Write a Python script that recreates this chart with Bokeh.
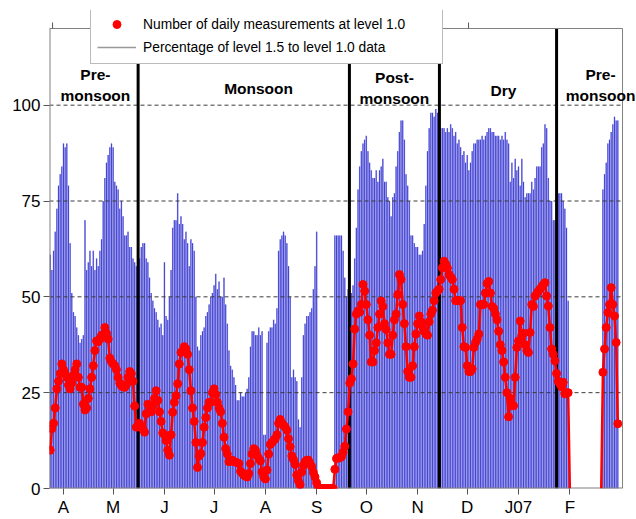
import numpy as np
from bokeh.plotting import figure
from bokeh.models import (ColumnDataSource, Range1d, FixedTicker,
                          Legend, LegendItem)
from bokeh.core.properties import value
from bokeh.embed import file_html
from bokeh.resources import INLINE

# ---------------- data (day index: 0 = 1 April 2006) ----------------
days_a = list(range(-8, 306))
days_b = list(range(326, 336))

pct_a = [61, 57, 62, 67, 73, 79, 82, 84,
         90, 89, 90, 79, 64, 51, 46, 45, 42, 40,
         38, 39, 40, 70, 57, 59, 62, 58, 62, 57,
         60, 58, 62, 65, 75, 81, 85, 87, 89, 90,
         89, 80, 79, 78, 73, 75, 71, 66, 66, 67,
         63, 63, 60, 59, 58, 55, 60, 63, 64, 64,
         60, 59, 55, 51, 49, 47, 46, 44, 42, 43,
         40, 59, 45, 44, 50, 57, 68, 70, 70, 77,
         69, 71, 69, 65, 67, 64, 58, 65, 64, 62,
         50, 37, 36, 40, 41, 42, 45, 46, 48, 50,
         51, 53, 56, 52, 54, 50, 50, 55, 48, 43,
         36, 32, 31, 29, 27, 23, 23, 25, 24, 24,
         25, 26, 29, 37, 41, 41, 40, 40, 42, 40,
         41, 14, 14, 38, 41, 42, 42, 44, 43, 47,
         62, 65, 66, 67, 66, 64, 58, 50, 29, 31,
         29, 28, 18, 16, 29, 40, 43, 45, 45, 46,
         47, 52, 58, 67, 0, 0, 0, 0, 0, 0,
         0, 0, 0, 0, 66, 66, 66, 66, 66, 62,
         55, 50, 52, 51, 51, 53, 60, 68, 78, 84,
         88, 90, 91, 92, 88, 85, 83, 81, 81, 83,
         80, 83, 84, 86, 80, 80, 76, 75, 71, 76,
         77, 84, 88, 93, 96, 96, 91, 82, 79, 75,
         66, 66, 64, 63, 63, 61, 61, 62, 69, 79,
         88, 94, 98, 98, 97, 99, 98, 96, 94, 94,
         94, 93, 94, 93, 95, 94, 92, 93, 90, 91,
         89, 87, 88, 85, 87, 83, 85, 88, 90, 90,
         91, 91, 91, 92, 91, 92, 93, 94, 94, 93,
         93, 92, 92, 92, 91, 92, 91, 93, 91, 90,
         80, 85, 81, 86, 83, 84, 79, 86, 80, 76,
         77, 77, 77, 80, 78, 81, 84, 84, 84, 89,
         90, 95, 94, 81, 75, 75, 70, 70, 66, 77,
         77, 77, 75, 73, 68, 49]
pct_b = [78, 82, 85, 90, 91, 93, 95, 97, 96, 96]

cnt_a = [10, 15.6, 17, 21, 26, 28, 30, 32.5,
         31, 30, 29, 27, 26, 27.5, 29.5, 31, 32.5, 29,
         26.4, 26.4, 22, 20.5, 21, 23.5, 26, 29, 32, 36,
         38.5, 38.3, 39, 40, 40, 42, 40.5, 39, 34, 33,
         32.5, 32, 31, 29, 27.5, 26.8, 26.5, 26.4, 27, 29,
         30.5, 30, 28, 21.5, 16, 16.5, 17, 16, 15.5, 14.7,
         19.5, 22, 21, 20, 21.5, 23.5, 25.5, 23, 20, 17.5,
         14.5, 14, 12.5, 10, 8.7, 14, 19.9, 22.5, 24.2, 27.3,
         32.5, 35.5, 35.9, 37, 36.4, 35, 31, 25.5, 21, 17.5,
         12, 5.5, 8.5, 9.1, 12, 16, 18.5, 21, 22.5, 22.5,
         25, 26, 24.5, 22.5, 21, 20, 17, 13.4, 10.4, 9,
         7, 7.2, 7.4, 7, 6.9, 6.7, 6.5, 4.5, 4, 3.5,
         3.2, 3, 3.9, 6.5, 9, 10.4, 10, 8.7, 7.8, 7.2,
         4.3, 3, 2.5, 4.8, 9, 11.5, 12, 12.6, 13, 14,
         17, 18, 17, 16.5, 16, 15.2, 13, 10.9, 8.5, 7.5,
         6.3, 3.5, 2, 1, 4.3, 6, 7, 7.4, 7.4, 6.5,
         5.7, 4.2, 3, 1.5, 0, 0, 0, 0, 0, 0,
         0, 0, 0, 0, 5, 7.8, 8, 8, 8.3, 9.5,
         11, 15.5, 20, 27.5, 28.6, 32.5, 41.6, 45.5, 46.3, 46,
         48, 53.2, 51.5, 48, 44, 40, 33, 33, 36, 38,
         42, 45.5, 48.9, 47.5, 43, 41.5, 38, 35, 35, 40,
         44, 45.5, 50.6, 55.8, 54.5, 48, 43, 37, 30.5, 29,
         29, 32, 37, 40.3, 43, 45, 43.5, 42.2, 41, 40.3,
         40, 43.5, 45.5, 46.5, 49, 51, 51.5, 52, 54.5, 57.6,
         59.3, 58.5, 57.5, 55.8, 55.2, 54.5, 52, 49, 49, 49,
         49, 42, 37, 36.8, 32, 30.5, 30.5, 31.2, 36.8, 38.1,
         39, 40.3, 48, 48, 48, 51, 53.5, 54, 51, 47.5,
         47, 45.5, 44, 41, 37.5, 36, 33, 29, 25, 18.7,
         23.5, 21.6, 21.6, 29, 36.8, 38.5, 43.7, 39.8, 40.5, 37.5,
         36, 35.5, 40.7, 48, 47.5, 50.2, 50.8, 51.5, 52, 52.6,
         53.2, 53.7, 50.2, 47.6, 42, 36.4, 35, 33.3, 30, 28,
         27.3, 26.5, 27.7, 24.7, 25, 25]
cnt_b = [30.3, 36.4, 42, 45.9, 48, 52.4, 48, 45, 38.1, 16.9]

# days on which the count falls to zero at the edges of the data gap
gap_edge_days = [306, 325]

month_days = [0, 30, 61, 91, 122, 153, 183, 214, 244, 275, 306]
month_labels = ["A", "M", "J", "J", "A", "S", "O", "N", "D", "J07", "F"]
y_ticks = [0, 25, 50, 75, 100]

season_bounds = [45.1, 172.8, 227.2, 298.0]
season_names = ["Pre-\nmonsoon", "Monsoon", "Post-\nmonsoon", "Dry", "Pre-\nmonsoon"]

# ---------------- layout constants ----------------
X_LO, X_HI = -8.46, 337.85      # axes box (days)
Y_LO, Y_HI = 0, 120             # axes box (values)
FONT = "Liberation Sans"
BOX = "#808080"

# the canvas region extends beyond the axes box (legend and labels overhang it)
p = figure(width=636, height=519, output_backend="svg", toolbar_location=None,
           x_range=Range1d(X_LO, 346.3), y_range=Range1d(Y_LO, 124.7),
           min_border_left=49, min_border_right=0, min_border_top=10,
           min_border_bottom=29)
p.xgrid.visible = False
p.ygrid.visible = False
p.outline_line_color = None
p.background_fill_color = "white"
p.border_fill_color = "white"

days = days_a + days_b
pct = pct_a + pct_b
cnt = cnt_a + cnt_b
src = ColumnDataSource(dict(x=days, pct=pct, cnt=cnt))

# percentage bars
p.vbar(x="x", top="pct", bottom=0, width=1.0, source=src,
       fill_color="#b2b2ec", line_color=None)
p.segment(x0="x", y0=0, x1="x", y1="pct", source=src,
          line_color="#4242d4", line_width=1)

# dashed reference lines and season boundaries
p.segment(x0=X_LO, x1=X_HI, y0=y_ticks[1:], y1=y_ticks[1:],
          line_color="#3a3a3a", line_width=1, line_dash="4 3")
p.segment(x0=season_bounds, x1=season_bounds, y0=Y_LO, y1=Y_HI,
          line_color="black", line_width=3)

# axes box
p.segment(x0=[X_LO, X_HI, X_LO, X_LO], x1=[X_LO, X_HI, X_HI, X_HI],
          y0=[Y_LO, Y_LO, Y_HI, Y_LO], y1=[Y_HI, Y_HI, Y_HI, Y_LO],
          line_color=BOX, line_width=[2, 1, 1, 2])
top_tick_days = [-6.6, 244.8]
p.segment(x0=top_tick_days, x1=top_tick_days, y0=Y_HI, y1=Y_HI + 1.56,
          line_color="#555555", line_width=1)

# red count line (with drops at the data gap)
lx = days_a + [gap_edge_days[0], np.nan, gap_edge_days[1]] + days_b
ly = cnt_a + [0, np.nan, 0] + cnt_b
p.line(lx, ly, line_color="#ff0000", line_width=2.5)
sc = p.scatter(x="x", y="cnt", source=src, size=8, marker="circle",
               fill_color="#ff0000", line_color="#ff0000")

# dummy renderer for the legend entry of the bars
dummy = p.line(x=[np.nan], y=[np.nan], line_color="#999999", line_width=1.5)

# season labels
lab_x = [19.3, 117.9, 200.0, 265.9, 324.6]
lab_y = [105.3, 104.4, 104.5, 103.9, 105.3]
p.text(x=lab_x, y=lab_y, text=season_names, text_align="center",
       text_baseline="middle", text_font=value(FONT), text_font_style="bold",
       text_font_size="15.5px", text_color="black", text_line_height=1.25)

# axes
p.xaxis.ticker = FixedTicker(ticks=month_days)
p.xaxis.major_label_overrides = {d: l for d, l in zip(month_days, month_labels)}
p.yaxis.ticker = FixedTicker(ticks=y_ticks)
for ax in (p.xaxis[0], p.yaxis[0]):
    ax.major_label_text_font = FONT
    ax.major_label_text_font_size = "17px"
    ax.major_label_text_color = "black"
    ax.axis_line_color = None
    ax.major_tick_line_color = "#555555"
    ax.major_tick_out = 6
    ax.major_tick_in = 0
    ax.minor_tick_line_color = None
p.xaxis.major_label_standoff = 3
p.yaxis.major_label_standoff = 3

legend = Legend(items=[
    LegendItem(label="Number of daily measurements at level 1.0", renderers=[sc]),
    LegendItem(label="Percentage of level 1.5 to level 1.0 data", renderers=[dummy]),
], location=(41, 424))
legend.label_text_font = FONT
legend.label_text_font_size = "13.8px"
legend.label_text_color = "black"
legend.label_height = 20
legend.glyph_height = 20
legend.glyph_width = 39
legend.label_width = 293
legend.label_standoff = 7
legend.spacing = 3
legend.padding = 6
legend.margin = 0
legend.border_line_color = "#777777"
legend.border_line_width = 1
legend.background_fill_color = "white"
legend.background_fill_alpha = 1.0
p.add_layout(legend, "center")

open("out.html", "w").write(file_html(p, INLINE))
